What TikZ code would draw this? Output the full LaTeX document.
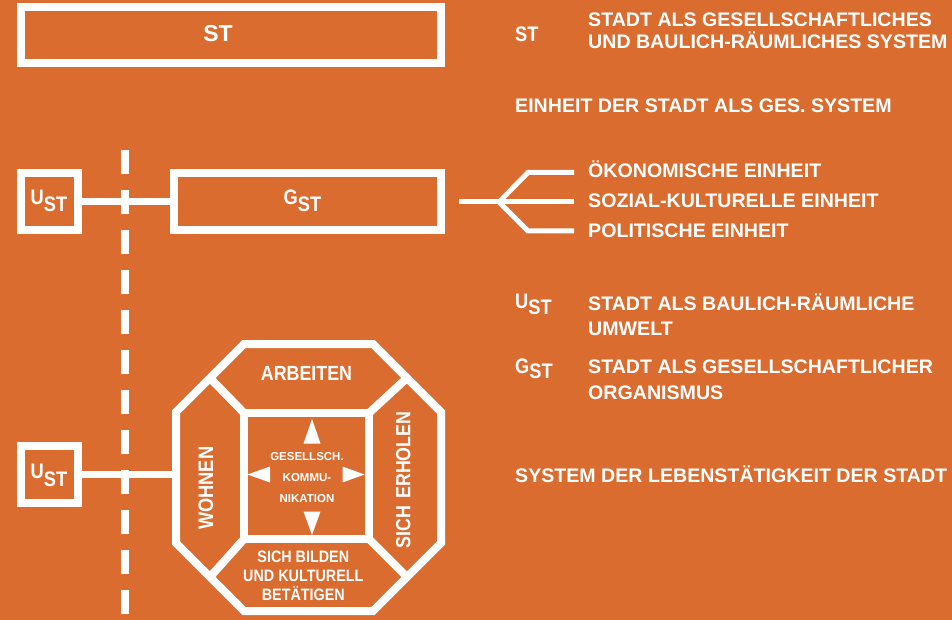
\documentclass[tikz,border=0pt]{standalone}
\usepackage{fontspec}
\setmainfont{Liberation Sans}
\newfontfamily\condf{Liberation Sans}[FakeStretch=0.87]
\definecolor{bgor}{RGB}{217,108,46}
\newcommand{\subst}[3]{#2\raisebox{-#1}{#3}}
\begin{document}
\begin{tikzpicture}[x=1pt,y=-1pt,
  wl/.style={draw=white, line width=8pt, line join=miter},
  boxn/.style={wl, rectangle, inner sep=0pt, fill=none},
  conn/.style={draw=white, line width=7pt},
  dashln/.style={draw=white, line width=8pt, dash pattern=on 24pt off 16pt},
  brln/.style={draw=white, line width=5pt, line join=miter},
  arrtri/.style={fill=white},
  lg/.style={text=white, inner sep=0pt, anchor=base west, font=\fontsize{19.6}{20}\selectfont\bfseries},
  sym/.style={text=white, inner sep=0pt, font=\condf\fontsize{21}{22}\selectfont\bfseries},
  oct/.style={text=white, inner sep=0pt, font=\condf\fontsize{20.5}{22}\selectfont\bfseries},
  octs/.style={text=white, inner sep=0pt, align=center, font=\condf\fontsize{16.5}{18.9}\selectfont\bfseries},
  ctr/.style={text=white, inner sep=0pt, align=center, font=\fontsize{11.5}{21.3}\selectfont\bfseries},
]
\fill[bgor] (0,0) rectangle (952,620);
\useasboundingbox (0,0) rectangle (952,620);

% dashed boundary line
\coordinate (dtop) at (125,150);
\coordinate (dbot) at (125,614);
\draw[dashln] (dtop) -- (dbot);

% boxes
\node[boxn, minimum width=420pt, minimum height=56.5pt] (st) at (231,35.25) {};
\node[boxn, minimum width=57pt, minimum height=57pt] (ust1) at (49.5,201.5) {};
\node[boxn, minimum width=267pt, minimum height=57pt] (gst) at (307.5,201.5) {};
\node[boxn, minimum width=57pt, minimum height=57pt] (ust2) at (49.5,474.5) {};

% octagon
\draw[wl] (244,344) -- (373,344) -- (441,412) -- (441,543) -- (373,611) -- (244,611) -- (176,543) -- (176,412) -- cycle;
\coordinate (sq1) at (244,413);
\coordinate (sq2) at (369,413);
\coordinate (sq3) at (369,539);
\coordinate (sq4) at (244,539);
\draw[wl] (sq1) rectangle (sq3);
\coordinate (m1) at (210,378);
\coordinate (m2) at (407,378);
\coordinate (m3) at (407,577);
\coordinate (m4) at (210,577);
\draw[wl] (sq1) -- (m1);
\draw[wl] (sq2) -- (m2);
\draw[wl] (sq3) -- (m3);
\draw[wl] (sq4) -- (m4);
\coordinate (octw) at (176,474.5);

% connectors
\draw[conn] (ust1) -- (gst);
\draw[conn] (ust2.east) -- (octw);

% branch
\coordinate (b0) at (459,202);
\coordinate (bj) at (499,202);
\coordinate (bu) at (528,172.5);
\coordinate (bd) at (528,231);
\coordinate (eu) at (574,172.5);
\coordinate (em) at (574,202);
\coordinate (ed) at (574,231);
\draw[brln] (b0) -- (em);
\draw[brln] (bj) -- (bu) -- (eu);
\draw[brln] (bj) -- (bd) -- (ed);

% arrows in centre square
\fill[arrtri] (312,419) -- (320.5,443.5) -- (303.5,443.5) -- cycle;
\fill[arrtri] (312,535) -- (320.5,511.5) -- (303.5,511.5) -- cycle;
\fill[arrtri] (247.5,474.5) -- (270,466.5) -- (270,482.5) -- cycle;
\fill[arrtri] (364.5,474.5) -- (342.5,466.5) -- (342.5,482.5) -- cycle;

% labels in boxes
\node[sym, anchor=base, font=\fontsize{23}{24}\selectfont\bfseries] (tst) at (218,41.7) {ST};
\node[sym, anchor=base] (tu1) at (49,205) {\subst{7pt}{U}{ST}};
\node[sym, anchor=base] (tg) at (302.5,205) {\subst{7pt}{G}{ST}};
\node[sym, anchor=base] (tu2) at (49,478) {\subst{8pt}{U}{ST}};

% octagon labels
\node[oct, anchor=base] (tarb) at (306.5,380) {ARBEITEN};
\node[oct, rotate=90, font=\condf\fontsize{21}{22}\selectfont\bfseries] (twoh) at (205.8,488.3) {WOHNEN};
\node[oct, rotate=90] (terh) at (403.3,480) {SICH\hspace{0.35em}ERHOLEN};
\node[octs, anchor=base] (tbil) at (303.3,600) {SICH BILDEN\\UND KULTURELL\\BETÄTIGEN};
\node[ctr, anchor=base] (tkom) at (307,502.7) {GESELLSCH.\\KOMMU-\\NIKATION};

% legend
\node[sym, anchor=base west] (lst) at (515,41.7) {ST};
\node[lg] (l1) at (588,27) {STADT ALS GESELLSCHAFTLICHES};
\node[lg] (l2) at (588,48.5) {UND BAULICH-RÄUMLICHES SYSTEM};
\node[lg] (l3) at (515,113) {EINHEIT DER STADT ALS GES. SYSTEM};
\node[lg] (l4) at (588,178) {ÖKONOMISCHE EINHEIT};
\node[lg] (l5) at (588,207.5) {SOZIAL-KULTURELLE EINHEIT};
\node[lg] (l6) at (588,237.3) {POLITISCHE EINHEIT};
\node[sym, anchor=base west] (lu) at (515,308) {\subst{6pt}{U}{ST}};
\node[lg] (l7) at (588,310.7) {STADT ALS BAULICH-RÄUMLICHE};
\node[lg] (l8) at (588,335) {UMWELT};
\node[sym, anchor=base west] (lgs) at (515,373) {\subst{5.5pt}{G}{ST}};
\node[lg] (l9) at (588,373.3) {STADT ALS GESELLSCHAFTLICHER};
\node[lg] (l10) at (588,399) {ORGANISMUS};
\node[lg] (l11) at (515,482.7) {SYSTEM DER LEBENSTÄTIGKEIT DER STADT};
\end{tikzpicture}
\end{document}
